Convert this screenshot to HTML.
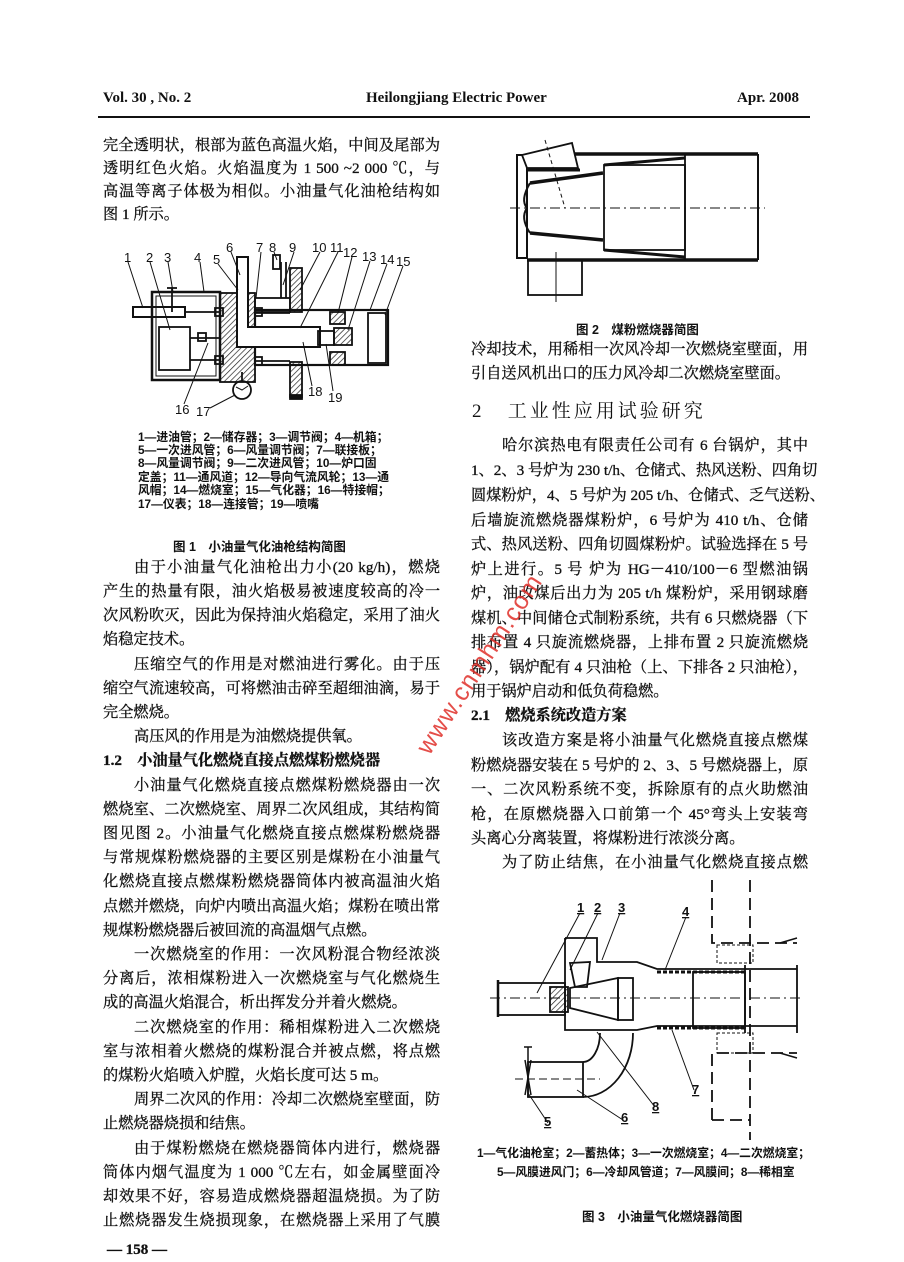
<!DOCTYPE html>
<html><head><meta charset="utf-8">
<style>
html,body{margin:0;padding:0;background:#fff;}
body{width:904px;height:1262px;position:relative;overflow:hidden;font-family:"Liberation Serif","Noto Serif CJK SC",serif;color:#111;}
.l{position:absolute;font-size:15.2px;line-height:20px;height:20px;white-space:nowrap;text-align:justify;text-align-last:justify;-webkit-text-stroke:0.3px #111;}
.L{left:103px;width:337px;}
.R{left:471px;width:337px;}
.i{text-indent:31px;}
.e{text-align-last:left;}
.b{font-weight:bold;}
.cap{position:absolute;font-size:11.8px;line-height:14px;font-weight:bold;white-space:nowrap;font-family:"Liberation Sans","Noto Sans CJK SC",sans-serif;}
.fc{position:absolute;font-size:12.5px;font-weight:bold;white-space:nowrap;font-family:"Liberation Sans","Noto Sans CJK SC",sans-serif;}
.hd{position:absolute;top:90px;font-size:15px;font-weight:bold;}
svg{position:absolute;left:0;top:0;}
</style></head><body>
<div class="hd" style="left:103px">Vol. 30 , No. 2</div>
<div class="hd" style="left:366px">Heilongjiang Electric Power</div>
<div class="hd" style="left:737px">Apr. 2008</div>
<div style="position:absolute;left:98px;top:116px;width:712px;height:2px;background:#111"></div>

<svg width="904" height="1262" viewBox="0 0 904 1262">
<defs>
<pattern id="h" width="4" height="4" patternUnits="userSpaceOnUse" patternTransform="rotate(45)"><line x1="0" y1="0" x2="0" y2="4" stroke="#222" stroke-width="1.4"/></pattern>
</defs>
<g fill="none" stroke="#111" stroke-width="1.8">
<rect x="152" y="292" width="68" height="88" stroke-width="2.5"/>
<rect x="156" y="296" width="60" height="80" stroke-width="1"/>
<rect x="220" y="293" width="35" height="89" fill="url(#h)"/>
<rect x="255" y="298" width="35" height="14"/>
<rect x="290" y="268" width="12" height="44" fill="url(#h)"/>
<rect x="290" y="362" width="12" height="35" fill="url(#h)"/>
<rect x="290" y="395" width="12" height="4" fill="#111"/>
<rect x="255" y="310" width="133" height="55" stroke-width="2.2"/>
<rect x="368" y="313" width="18" height="50"/>
<rect x="330" y="312" width="15" height="12" fill="url(#h)"/>
<rect x="330" y="352" width="15" height="13" fill="url(#h)"/>
<path d="M237,257 H248 V327 H320 V347 H237 Z" fill="#fff" stroke-width="2"/>
<rect x="318" y="331" width="16" height="14"/>
<rect x="334" y="328" width="18" height="17" fill="url(#h)"/>
<rect x="133" y="307" width="52" height="10" stroke-width="2"/>
<rect x="159" y="327" width="31" height="43"/>
<line x1="190" y1="338" x2="220" y2="338"/>
<line x1="190" y1="360" x2="220" y2="360"/>
<line x1="185" y1="312" x2="220" y2="312"/>
<line x1="255" y1="361" x2="290" y2="361"/>
<line x1="255" y1="313" x2="290" y2="313"/>
<rect x="215" y="308" width="8" height="8"/>
<rect x="215" y="356" width="8" height="8"/>
<rect x="198" y="333" width="8" height="8"/>
<rect x="255" y="308" width="7" height="8"/>
<rect x="255" y="357" width="7" height="8"/>
<line x1="172" y1="288" x2="172" y2="312"/>
<line x1="167" y1="288" x2="177" y2="288"/>
<rect x="273" y="255" width="7" height="14"/>
<line x1="281" y1="262" x2="281" y2="298"/>
<line x1="286" y1="262" x2="286" y2="298"/>
<line x1="242" y1="372" x2="242" y2="381"/>
<circle cx="242" cy="390" r="9"/>
<path d="M236,387 L242,390 L248,386" stroke-width="1"/>
<g stroke-width="1">
<line x1="128" y1="262" x2="143" y2="308"/>
<line x1="150" y1="262" x2="170" y2="330"/>
<line x1="168" y1="262" x2="173" y2="292"/>
<line x1="200" y1="262" x2="204" y2="292"/>
<line x1="218" y1="264" x2="238" y2="290"/>
<line x1="231" y1="252" x2="240" y2="275"/>
<line x1="261" y1="252" x2="256" y2="298"/>
<line x1="274" y1="252" x2="277" y2="260"/>
<line x1="294" y1="252" x2="283" y2="285"/>
<line x1="320" y1="252" x2="300" y2="290"/>
<line x1="338" y1="252" x2="300" y2="328"/>
<line x1="352" y1="257" x2="338" y2="313"/>
<line x1="370" y1="261" x2="348" y2="330"/>
<line x1="387" y1="264" x2="370" y2="310"/>
<line x1="403" y1="266" x2="385" y2="315"/>
<line x1="184" y1="404" x2="208" y2="343"/>
<line x1="210" y1="408" x2="235" y2="395"/>
<line x1="312" y1="386" x2="303" y2="342"/>
<line x1="333" y1="391" x2="326" y2="344"/>
</g>
<rect x="517" y="155" width="10" height="103" stroke-width="2"/>
<line x1="575" y1="154" x2="758" y2="154" stroke-width="3.5"/>
<line x1="527" y1="260" x2="758" y2="260" stroke-width="3.5"/>
<line x1="758" y1="154" x2="758" y2="260" stroke-width="2"/>
<polygon points="522,155 572,143 578,168 527,168" fill="#fff"/>
<line x1="527" y1="170" x2="580" y2="170" stroke-width="3"/>
<path d="M530,183 L603,173 M530,233 L603,240" stroke-width="3.5"/>
<path d="M530,183 Q520,200 527,208 M530,233 Q520,218 527,208" stroke-width="2"/>
<rect x="604" y="165" width="81" height="85"/>
<line x1="604" y1="165" x2="685" y2="158" stroke-width="3"/>
<line x1="604" y1="250" x2="685" y2="257" stroke-width="3"/>
<line x1="685" y1="154" x2="685" y2="260"/>
<rect x="528" y="260" width="54" height="35"/>
<line x1="510" y1="208" x2="765" y2="208" stroke-width="1" stroke-dasharray="10,4,2,4"/>
<line x1="556" y1="252" x2="556" y2="302" stroke-width="1"/>
<line x1="545" y1="140" x2="565" y2="208" stroke-width="1" stroke-dasharray="4,3"/>
<line x1="498" y1="980" x2="498" y2="1017" stroke-width="2.5"/>
<rect x="498" y="983" width="67" height="32"/>
<rect x="550" y="987" width="18" height="25" fill="url(#h)"/>
<path d="M565,938 H597 V962 H637 L657,969 H797"/>
<path d="M565,938 V1030 H637 L657,1026 H797"/>
<path d="M570,988 L618,978 V1020 L570,1008 Z"/>
<rect x="618" y="978" width="15" height="42"/>
<polygon points="570,963 590,962 587,987 575,987"/>
<rect x="693" y="972" width="52" height="56"/>
<line x1="745" y1="965" x2="745" y2="1033"/>
<line x1="797" y1="965" x2="797" y2="1033"/>
<line x1="657" y1="972" x2="745" y2="972" stroke-width="3" stroke-dasharray="4,2"/>
<line x1="657" y1="1028" x2="745" y2="1028" stroke-width="3" stroke-dasharray="4,2"/>
<line x1="490" y1="998" x2="800" y2="998" stroke-width="1" stroke-dasharray="10,4,2,4"/>
<path d="M712,880 V943 H797 M712,1120 V1053 H797 M712,1120 H750" stroke-width="1.8" stroke-dasharray="12,6"/>
<line x1="750" y1="880" x2="750" y2="1140" stroke-width="1.8" stroke-dasharray="12,6"/>
<rect x="717" y="945" width="36" height="18" stroke-width="1" stroke-dasharray="3,2"/>
<rect x="717" y="1033" width="36" height="20" stroke-width="1" stroke-dasharray="3,2"/>
<path d="M780,943 L797,938 M780,1053 L797,1058" stroke-width="1.5"/>
<rect x="528" y="1062" width="55" height="35"/>
<path d="M583,1097 A50,64 0 0 0 633,1033 M583,1062 A17,29 0 0 0 600,1033"/>
<line x1="515" y1="1079" x2="600" y2="1079" stroke-width="1" stroke-dasharray="8,4"/>
<path d="M528,1047 V1097 M524,1047 H532 M525,1060 L531,1095 M531,1060 L525,1095" stroke-width="1.5"/>
<g stroke-width="1">
<line x1="580" y1="913" x2="537" y2="993"/>
<line x1="598" y1="913" x2="570" y2="970"/>
<line x1="620" y1="913" x2="602" y2="960"/>
<line x1="686" y1="917" x2="665" y2="970"/>
<line x1="548" y1="1123" x2="528" y2="1093"/>
<line x1="623" y1="1120" x2="577" y2="1090"/>
<line x1="694" y1="1090" x2="672" y2="1030"/>
<line x1="655" y1="1107" x2="597" y2="1032"/>
</g>
</g>
<g font-family="Liberation Sans, sans-serif" font-size="13" fill="#111">
<text x="124" y="262">1</text><text x="146" y="262">2</text><text x="164" y="262">3</text><text x="194" y="262">4</text><text x="213" y="264">5</text>
<text x="226" y="252">6</text><text x="256" y="252">7</text><text x="269" y="252">8</text><text x="289" y="252">9</text>
<text x="312" y="252">10</text><text x="330" y="252">11</text><text x="343" y="257">12</text><text x="362" y="261">13</text><text x="380" y="264">14</text><text x="396" y="266">15</text>
<text x="175" y="414">16</text><text x="196" y="416">17</text><text x="308" y="396">18</text><text x="328" y="402">19</text>
</g>
<g font-family="Liberation Sans, sans-serif" font-size="13" font-weight="bold" fill="#111" text-decoration="underline">
<text x="577" y="912">1</text><text x="594" y="912">2</text><text x="618" y="912">3</text><text x="682" y="916">4</text>
<text x="544" y="1126">5</text><text x="621" y="1122">6</text><text x="692" y="1094">7</text><text x="652" y="1111">8</text>
</g>
</svg>

<div class="l L" style="top:136px">完全透明状，根部为蓝色高温火焰，中间及尾部为</div>
<div class="l L" style="top:159px">透明红色火焰。火焰温度为 1 500 ~2 000 ℃，与</div>
<div class="l L" style="top:182px">高温等离子体极为相似。小油量气化油枪结构如</div>
<div class="l L e" style="top:205px">图 1 所示。</div>

<div class="cap" style="left:138px;top:430px">1—进油管；2—储存器；3—调节阀；4—机箱；</div>
<div class="cap" style="left:138px;top:443px">5—一次进风管；6—风量调节阀；7—联接板；</div>
<div class="cap" style="left:138px;top:456px">8—风量调节阀；9—二次进风管；10—炉口固</div>
<div class="cap" style="left:138px;top:470px">定盖；11—通风道；12—导向气流风轮；13—通</div>
<div class="cap" style="left:138px;top:483px">风帽；14—燃烧室；15—气化器；16—特接帽；</div>
<div class="cap" style="left:138px;top:497px">17—仪表；18—连接管；19—喷嘴</div>
<div class="fc" style="left:173px;top:536px">图 1　小油量气化油枪结构简图</div>

<div class="l L i" style="top:558px">由于小油量气化油枪出力小(20 kg/h)，燃烧</div>
<div class="l L" style="top:582px">产生的热量有限，油火焰极易被速度较高的冷一</div>
<div class="l L" style="top:606px">次风粉吹灭，因此为保持油火焰稳定，采用了油火</div>
<div class="l L e" style="top:630px">焰稳定技术。</div>
<div class="l L i" style="top:655px">压缩空气的作用是对燃油进行雾化。由于压</div>
<div class="l L" style="top:679px">缩空气流速较高，可将燃油击碎至超细油滴，易于</div>
<div class="l L e" style="top:703px">完全燃烧。</div>
<div class="l L i e" style="top:727px">高压风的作用是为油燃烧提供氧。</div>
<div class="l L e b" style="top:751px">1.2　小油量气化燃烧直接点燃煤粉燃烧器</div>
<div class="l L i" style="top:776px">小油量气化燃烧直接点燃煤粉燃烧器由一次</div>
<div class="l L" style="top:800px">燃烧室、二次燃烧室、周界二次风组成，其结构简</div>
<div class="l L" style="top:824px">图见图 2。小油量气化燃烧直接点燃煤粉燃烧器</div>
<div class="l L" style="top:848px">与常规煤粉燃烧器的主要区别是煤粉在小油量气</div>
<div class="l L" style="top:872px">化燃烧直接点燃煤粉燃烧器筒体内被高温油火焰</div>
<div class="l L" style="top:897px">点燃并燃烧，向炉内喷出高温火焰；煤粉在喷出常</div>
<div class="l L e" style="top:921px">规煤粉燃烧器后被回流的高温烟气点燃。</div>
<div class="l L i" style="top:945px">一次燃烧室的作用：一次风粉混合物经浓淡</div>
<div class="l L" style="top:969px">分离后，浓相煤粉进入一次燃烧室与气化燃烧生</div>
<div class="l L e" style="top:993px">成的高温火焰混合，析出挥发分并着火燃烧。</div>
<div class="l L i" style="top:1018px">二次燃烧室的作用：稀相煤粉进入二次燃烧</div>
<div class="l L" style="top:1042px">室与浓相着火燃烧的煤粉混合并被点燃，将点燃</div>
<div class="l L e" style="top:1066px">的煤粉火焰喷入炉膛，火焰长度可达 5 m。</div>
<div class="l L i" style="top:1090px">周界二次风的作用：冷却二次燃烧室壁面，防</div>
<div class="l L e" style="top:1114px">止燃烧器烧损和结焦。</div>
<div class="l L i" style="top:1139px">由于煤粉燃烧在燃烧器筒体内进行，燃烧器</div>
<div class="l L" style="top:1163px">筒体内烟气温度为 1 000 ℃左右，如金属壁面冷</div>
<div class="l L" style="top:1187px">却效果不好，容易造成燃烧器超温烧损。为了防</div>
<div class="l L" style="top:1211px">止燃烧器发生烧损现象，在燃烧器上采用了气膜</div>
<div class="l e" style="left:107px;top:1240px;font-size:15px;font-weight:bold">— 158 —</div>

<div class="fc" style="left:576px;top:319px">图 2　煤粉燃烧器简图</div>
<div class="l R" style="top:340px">冷却技术，用稀相一次风冷却一次燃烧室壁面，用</div>
<div class="l R e" style="top:364px">引自送风机出口的压力风冷却二次燃烧室壁面。</div>
<div class="l e" style="left:472px;top:400px;font-size:19px;line-height:24px;height:24px;letter-spacing:3px;-webkit-text-stroke:0">2&nbsp;&nbsp;&nbsp;工业性应用试验研究</div>
<div class="l R i" style="top:436px">哈尔滨热电有限责任公司有 6 台锅炉，其中</div>
<div class="l R" style="top:461px">1、2、3 号炉为 230 t/h、仓储式、热风送粉、四角切</div>
<div class="l R" style="top:486px">圆煤粉炉，4、5 号炉为 205 t/h、仓储式、乏气送粉、</div>
<div class="l R" style="top:511px">后墙旋流燃烧器煤粉炉，6 号炉为 410 t/h、仓储</div>
<div class="l R" style="top:535px">式、热风送粉、四角切圆煤粉炉。试验选择在 5 号</div>
<div class="l R" style="top:560px">炉上进行。5 号 炉为 HG－410/100－6 型燃油锅</div>
<div class="l R" style="top:584px">炉，油改煤后出力为 205 t/h 煤粉炉，采用钢球磨</div>
<div class="l R" style="top:609px">煤机、中间储仓式制粉系统，共有 6 只燃烧器（下</div>
<div class="l R" style="top:633px">排布置 4 只旋流燃烧器，上排布置 2 只旋流燃烧</div>
<div class="l R" style="top:658px">器），锅炉配有 4 只油枪（上、下排各 2 只油枪），</div>
<div class="l R e" style="top:682px">用于锅炉启动和低负荷稳燃。</div>
<div class="l R e b" style="top:706px">2.1　燃烧系统改造方案</div>
<div class="l R i" style="top:731px">该改造方案是将小油量气化燃烧直接点燃煤</div>
<div class="l R" style="top:756px">粉燃烧器安装在 5 号炉的 2、3、5 号燃烧器上，原</div>
<div class="l R" style="top:780px">一、二次风粉系统不变，拆除原有的点火助燃油</div>
<div class="l R" style="top:805px">枪，在原燃烧器入口前第一个 45°弯头上安装弯</div>
<div class="l R e" style="top:829px">头离心分离装置，将煤粉进行浓淡分离。</div>
<div class="l R i" style="top:853px">为了防止结焦，在小油量气化燃烧直接点燃</div>

<div class="cap" style="left:477px;top:1146px">1—气化油枪室；2—蓄热体；3—一次燃烧室；4—二次燃烧室；</div>
<div class="cap" style="left:497px;top:1165px">5—风膜进风门；6—冷却风管道；7—风膜间；8—稀相室</div>
<div class="fc" style="left:582px;top:1206px">图 3　小油量气化燃烧器简图</div>

<div style="position:absolute;left:330px;top:650px;transform:rotate(-57deg);transform-origin:center;color:#e0302a;font-size:25px;font-family:'Liberation Sans',sans-serif;letter-spacing:1px;opacity:0.85;width:300px;text-align:center">www.cnmhm.com</div>
</body></html>
